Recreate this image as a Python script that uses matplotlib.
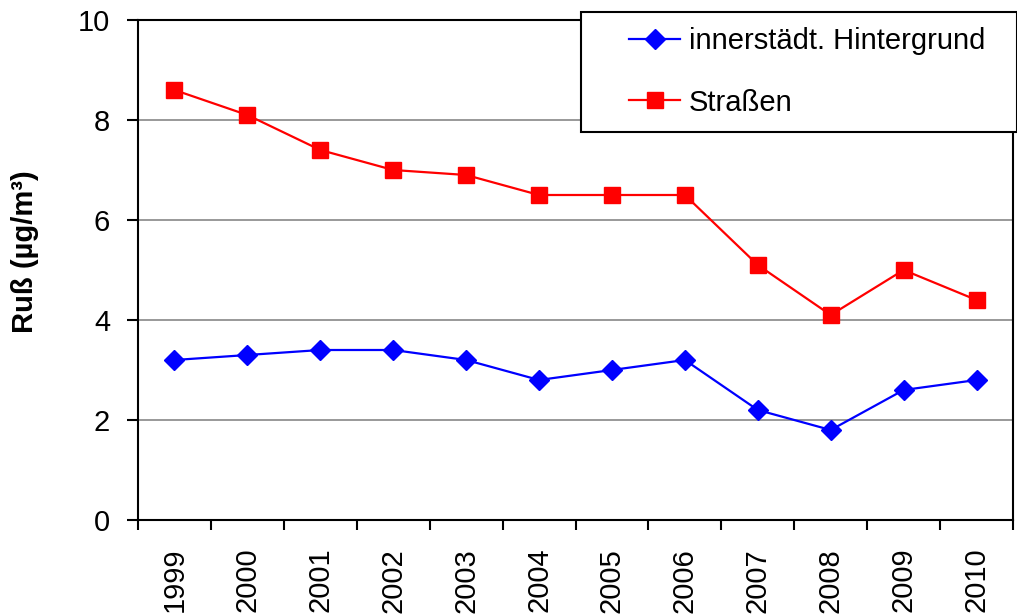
import numpy as np
import matplotlib.pyplot as plt
from matplotlib.patches import Rectangle

plt.rcParams['font.family'] = ['Liberation Sans', 'DejaVu Sans']

years = ['1999', '2000', '2001', '2002', '2003', '2004',
         '2005', '2006', '2007', '2008', '2009', '2010']
hintergrund = [3.2, 3.3, 3.4, 3.4, 3.2, 2.8, 3.0, 3.2, 2.2, 1.8, 2.6, 2.8]
strassen = [8.6, 8.1, 7.4, 7.0, 6.9, 6.5, 6.5, 6.5, 5.1, 4.1, 5.0, 4.4]

W, H = 1017, 615
fig = plt.figure(figsize=(W / 100, H / 100), dpi=100)
ax = fig.add_axes([138 / W, 1 - 520 / H, (1013 - 138) / W, 500 / H])

x = np.arange(len(years))
ax.plot(x, hintergrund, color='#0000ff', lw=1.6, marker='D', ms=10,
        label='innerstädt. Hintergrund', zorder=3)
ax.plot(x, strassen, color='#ff0000', lw=1.6, marker='s', ms=11,
        label='Straßen', zorder=3)

ax.set_xlim(-0.5, len(years) - 0.5)
ax.set_ylim(0, 10)
ax.set_yticks(np.arange(0, 11, 2))
ax.yaxis.grid(True, color='#888888', lw=1.2)
ax.set_axisbelow(True)

# category labels in the middle, tick marks on the borders (Excel style)
ax.set_xticks(x)
ax.set_xticklabels(years, rotation=90)
ax.set_xticks(np.arange(-0.5, len(years)), minor=True)
ax.tick_params(axis='x', which='major', length=0, pad=20, labelsize=21)
ax.tick_params(axis='x', which='minor', length=7, width=1.5, direction='out')
ax.tick_params(axis='y', length=8, width=1.5, direction='out', labelsize=21, pad=12)
for s in ax.spines.values():
    s.set_linewidth(1.5)

fig.text(25 / W, 1 - 252 / H, 'Ruß (µg/m³)', rotation=90, fontsize=21,
         fontweight='bold', ha='center', va='center')

# legend box, sits over the top of the plot area
fig.patches.append(Rectangle((581 / W, 1 - 132 / H), (W - 581) / W, 120 / H,
                             transform=fig.transFigure, facecolor='white',
                             edgecolor='black', lw=1.5, zorder=4))
fig.legend(loc='upper left', bbox_to_anchor=(629 / W, 1 - 27 / H),
           frameon=False, fontsize=21, borderpad=0, borderaxespad=0,
           handlelength=1.75, handletextpad=0.3, labelspacing=1.15)

fig.savefig('out.png', dpi=100)
